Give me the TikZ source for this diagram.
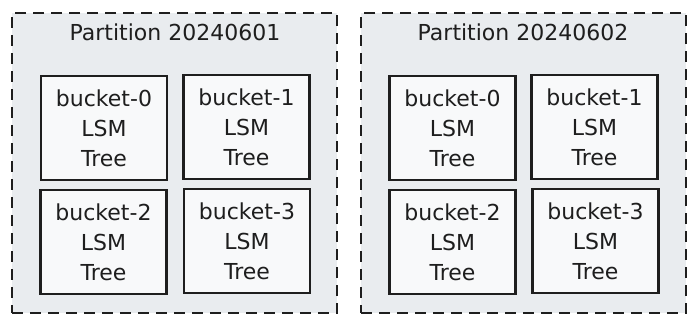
\documentclass[tikz,border=0pt]{standalone}
\usepackage{fontspec}
\setmainfont{DejaVu Sans}
\definecolor{partfill}{HTML}{E9ECEF}
\definecolor{bucketfill}{HTML}{F8F9FA}
\definecolor{ink}{HTML}{1E1E1E}
\tikzset{
  partbox/.style={draw=ink, fill=partfill, line width=2.4pt, dash pattern=on 11pt off 7pt,
    minimum width=325pt, minimum height=300pt, inner sep=0pt},
  bucketbox/.style={draw=ink, fill=bucketfill, line width=2.4pt,
    minimum width=126pt, minimum height=104pt, inner sep=0pt, align=center,
    font=\fontsize{22}{30}\selectfont, text=ink},
  titletext/.style={font=\fontsize{22}{24}\selectfont, text=ink, inner sep=0pt}
}
\begin{document}
\begin{tikzpicture}[x=1pt,y=-1pt]
\useasboundingbox (0,0) rectangle (698,325);
% partition 1
\node[partbox] (p1) at (174.5,163) {};
\node[titletext] (t1) at (175,32) {Partition 20240601};
\node[bucketbox] (a0) at (104,128) {bucket-0\\LSM\\Tree};
\node[bucketbox] (a1) at (246.5,127) {bucket-1\\LSM\\Tree};
\node[bucketbox] (a2) at (103.5,242) {bucket-2\\LSM\\Tree};
\node[bucketbox] (a3) at (247,241) {bucket-3\\LSM\\Tree};
% partition 2
\node[partbox] (p2) at (523.5,163) {};
\node[titletext] (t2) at (523,32) {Partition 20240602};
\node[bucketbox] (b0) at (452.5,128) {bucket-0\\LSM\\Tree};
\node[bucketbox] (b1) at (594.5,127) {bucket-1\\LSM\\Tree};
\node[bucketbox] (b2) at (452.5,242) {bucket-2\\LSM\\Tree};
\node[bucketbox] (b3) at (595.5,241) {bucket-3\\LSM\\Tree};
\end{tikzpicture}
\end{document}
